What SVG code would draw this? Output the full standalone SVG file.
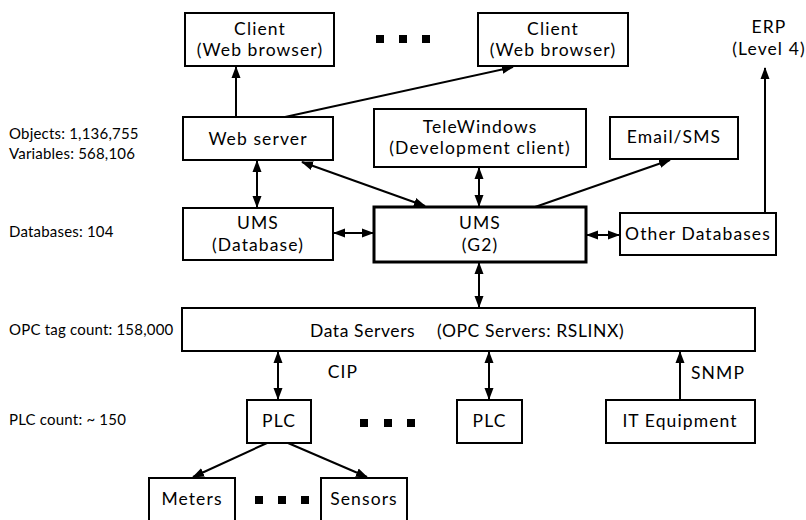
<svg xmlns="http://www.w3.org/2000/svg" width="806" height="520" viewBox="0 0 806 520">
<style>
.box{fill:#fff;stroke:#000;stroke-width:2}
.thick{stroke-width:3}
.t{font-family:Lato,"Open Sans","Liberation Sans",sans-serif;font-size:17.5px;letter-spacing:1.1px;fill:#000;text-anchor:middle}
.s{font-family:Lato,"Open Sans","Liberation Sans",sans-serif;font-size:15px;letter-spacing:0.2px;fill:#000}
.c{stroke:#000;stroke-width:2;fill:none}
.dot{fill:#000}
</style>
<defs>
<marker id="ah" markerUnits="userSpaceOnUse" markerWidth="12" markerHeight="10" refX="11" refY="4.5" orient="auto-start-reverse" viewBox="0 0 12 9">
<path d="M0,0 L12,4.5 L0,9 z" fill="#000"/>
</marker>
</defs>
<rect width="806" height="520" fill="#fff"/>

<g id="side-labels">
<text class="s" x="9" y="139">Objects: 1,136,755</text>
<text class="s" x="9" y="159">Variables: 568,106</text>
<text class="s" x="9" y="237">Databases: 104</text>
<text class="s" x="9" y="335">OPC tag count: 158,000</text>
<text class="s" x="9" y="425">PLC count: ~ 150</text>
</g>

<g id="connectors">
<line class="c" x1="236" y1="117" x2="236" y2="67" marker-end="url(#ah)"/>
<line class="c" x1="285" y1="117" x2="513" y2="67" marker-end="url(#ah)"/>
<line class="c" x1="257" y1="161" x2="257" y2="207" marker-start="url(#ah)" marker-end="url(#ah)"/>
<line class="c" x1="334" y1="233" x2="373" y2="233" marker-start="url(#ah)" marker-end="url(#ah)"/>
<line class="c" x1="425" y1="206" x2="302" y2="162" marker-start="url(#ah)" marker-end="url(#ah)"/>
<line class="c" x1="479" y1="168" x2="479" y2="206" marker-start="url(#ah)" marker-end="url(#ah)"/>
<line class="c" x1="535" y1="207" x2="670" y2="160" marker-end="url(#ah)"/>
<line class="c" x1="587" y1="235" x2="619" y2="235" marker-start="url(#ah)" marker-end="url(#ah)"/>
<line class="c" x1="765" y1="213" x2="765" y2="68" marker-end="url(#ah)"/>
<line class="c" x1="479" y1="263" x2="479" y2="307" marker-start="url(#ah)" marker-end="url(#ah)"/>
<line class="c" x1="278" y1="352" x2="278" y2="399" marker-start="url(#ah)" marker-end="url(#ah)"/>
<line class="c" x1="489" y1="352" x2="489" y2="399" marker-start="url(#ah)" marker-end="url(#ah)"/>
<line class="c" x1="680" y1="400" x2="680" y2="352" marker-end="url(#ah)"/>
<line class="c" x1="267" y1="443" x2="193" y2="477" marker-end="url(#ah)"/>
<line class="c" x1="288" y1="443" x2="367" y2="477" marker-end="url(#ah)"/>
</g>

<g id="client1">
<rect class="box" x="185" y="13" width="149" height="53"/>
<text class="t" x="260" y="35">Client</text>
<text class="t" x="260" y="56">(Web browser)</text>
</g>
<g id="dots-top">
<rect class="dot" x="376" y="35" width="8" height="8"/>
<rect class="dot" x="399" y="35" width="8" height="8"/>
<rect class="dot" x="422" y="35" width="8" height="8"/>
</g>
<g id="client2">
<rect class="box" x="478" y="13" width="150" height="53"/>
<text class="t" x="553" y="35">Client</text>
<text class="t" x="553" y="56">(Web browser)</text>
</g>
<g id="erp">
<text class="t" x="769" y="33">ERP</text>
<text class="t" x="769" y="55">(Level 4)</text>
</g>
<g id="webserver">
<rect class="box" x="183" y="117" width="150" height="43"/>
<text class="t" x="258" y="145">Web server</text>
</g>
<g id="telewindows">
<rect class="box" x="374" y="109" width="212" height="58"/>
<text class="t" x="480" y="133">TeleWindows</text>
<text class="t" x="480" y="154">(Development client)</text>
</g>
<g id="email">
<rect class="box" x="610" y="117" width="128" height="42"/>
<text class="t" x="674" y="143">Email/SMS</text>
</g>
<g id="umsdb">
<rect class="box" x="183" y="208" width="150" height="52"/>
<text class="t" x="258" y="229">UMS</text>
<text class="t" x="258" y="251">(Database)</text>
</g>
<g id="umsg2">
<rect class="box thick" x="374" y="207" width="212" height="55"/>
<text class="t" x="480" y="229">UMS</text>
<text class="t" x="480" y="251">(G2)</text>
</g>
<g id="otherdb">
<rect class="box" x="620" y="213" width="156" height="42"/>
<text class="t" x="698" y="240">Other Databases</text>
</g>
<g id="dataservers">
<rect class="box" x="182" y="308" width="573" height="43"/>
<text class="t" style="text-anchor:start;letter-spacing:0.6px" y="337"><tspan x="310">Data Servers</tspan><tspan x="437">(OPC Servers: RSLINX)</tspan></text>
</g>
<g id="cip"><text class="t" x="343" y="378">CIP</text></g>
<g id="snmp"><text class="t" style="text-anchor:start" x="691" y="379">SNMP</text></g>
<g id="plc1">
<rect class="box" x="247" y="400" width="64" height="43"/>
<text class="t" x="279" y="427">PLC</text>
</g>
<g id="dots-mid">
<rect class="dot" x="360" y="419" width="8" height="8"/>
<rect class="dot" x="384" y="419" width="8" height="8"/>
<rect class="dot" x="407" y="419" width="8" height="8"/>
</g>
<g id="plc2">
<rect class="box" x="457" y="400" width="65" height="43"/>
<text class="t" x="489.5" y="427">PLC</text>
</g>
<g id="itequipment">
<rect class="box" x="606" y="400" width="149" height="43"/>
<text class="t" x="680" y="427">IT Equipment</text>
</g>
<g id="meters">
<rect class="box" x="149" y="478" width="86" height="46"/>
<text class="t" x="192" y="505">Meters</text>
</g>
<g id="dots-bottom">
<rect class="dot" x="255" y="496" width="8" height="8"/>
<rect class="dot" x="278" y="496" width="8" height="8"/>
<rect class="dot" x="301" y="496" width="8" height="8"/>
</g>
<g id="sensors">
<rect class="box" x="321" y="478" width="86" height="46"/>
<text class="t" x="364" y="505">Sensors</text>
</g>
</svg>
